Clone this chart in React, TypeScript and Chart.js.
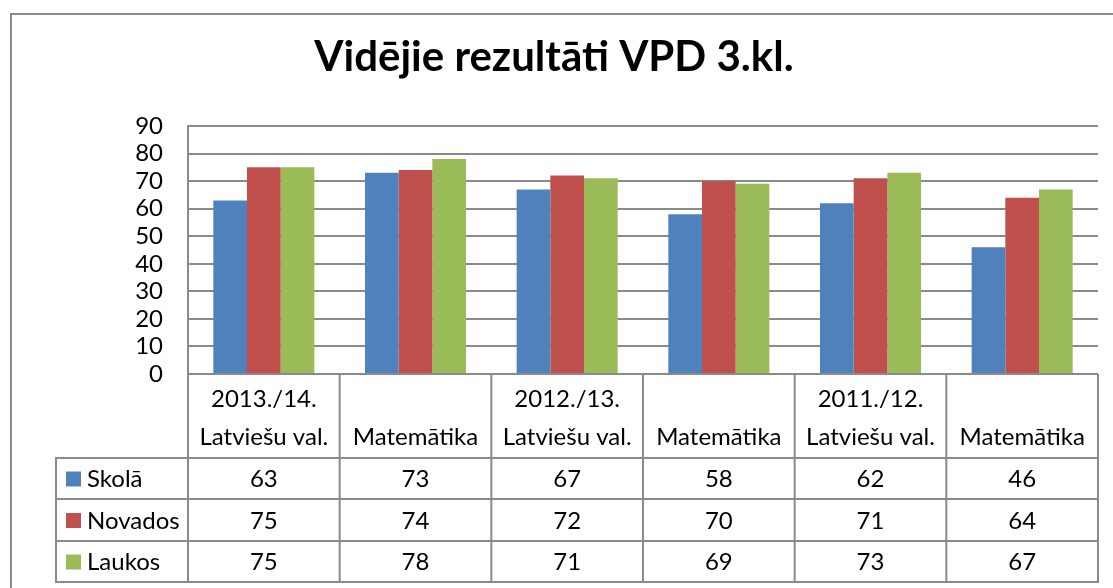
import React, { useEffect, useRef } from "react";
import { Chart, registerables } from "chart.js";

Chart.register(...registerables);

const TITLE = "Vidējie rezultāti VPD 3.kl.";
const YEARS = ["2013./14.", "", "2012./13.", "", "2011./12.", ""];
const SUBJECTS = ["Latviešu val.", "Matemātika", "Latviešu val.", "Matemātika", "Latviešu val.", "Matemātika"];
const SERIES_NAMES = ["Skolā", "Novados", "Laukos"];
const SKOLA = [63, 73, 67, 58, 62, 46];
const NOVADOS = [75, 74, 72, 70, 71, 64];
const LAUKOS = [75, 78, 71, 69, 73, 67];
const Y_MIN = 0;
const Y_MAX = 90;
const Y_STEP = 10;

const COLORS = ["#4F81BD", "#C0504D", "#9BBB59"];
const LINE = "#8a8a8a";
const FONT = "Lato, 'Open Sans', sans-serif";

const W = 1113;
const H = 588;

const tablePlugin = {
  id: "excelTable",
  afterDraw(chart: any) {
    const ctx = chart.ctx as CanvasRenderingContext2D;
    const ca = chart.chartArea;
    const xs = chart.scales.x;
    const labels = chart.data.labels as string[][];
    const n = labels.length;
    const colW = (ca.right - ca.left) / n;
    const headTop = ca.bottom;
    const headBottom = headTop + 84;
    const rowH = [41, 42, 41];
    const rowTops = [headBottom, headBottom + rowH[0], headBottom + rowH[0] + rowH[1]];
    const tableBottom = rowTops[2] + rowH[2];
    const legendLeft = 56;

    ctx.save();
    // outer chart border (left & top visible)
    ctx.strokeStyle = LINE;
    ctx.lineWidth = 2;
    ctx.strokeRect(11, 14, W + 20, H + 20);

    // title
    ctx.fillStyle = "#000";
    ctx.font = `bold 42px ${FONT}`;
    ctx.textAlign = "center";
    ctx.textBaseline = "alphabetic";
    ctx.fillText(TITLE, 554, 71);

    // table grid
    ctx.strokeStyle = LINE;
    ctx.lineWidth = 2;
    ctx.beginPath();
    for (let i = 0; i <= n; i++) {
      const x = ca.left + i * colW;
      ctx.moveTo(x, headTop);
      ctx.lineTo(x, tableBottom);
    }
    ctx.moveTo(legendLeft, headBottom);
    ctx.lineTo(legendLeft, tableBottom);
    for (const y of [...rowTops, tableBottom]) {
      ctx.moveTo(legendLeft - 1, y);
      ctx.lineTo(ca.right + 1, y);
    }
    ctx.stroke();

    // header labels
    ctx.fillStyle = "#000";
    ctx.font = `24px ${FONT}`;
    ctx.textAlign = "center";
    ctx.textBaseline = "middle";
    for (let i = 0; i < n; i++) {
      const cx = xs.getPixelForValue(i);
      const lines = labels[i];
      ctx.fillText(lines[0], cx, headTop + 25);
      ctx.fillText(lines[1], cx, headTop + 63);
    }

    // data rows
    chart.data.datasets.forEach((ds: any, r: number) => {
      const cy = rowTops[r] + rowH[r] / 2 + 1;
      ctx.fillStyle = ds.backgroundColor;
      ctx.fillRect(66, cy - 8, 15, 15);
      ctx.fillStyle = "#000";
      ctx.textAlign = "left";
      ctx.fillText(ds.label, 87, cy);
      ctx.textAlign = "center";
      ds.data.forEach((v: number, i: number) => {
        ctx.fillText(String(v), xs.getPixelForValue(i), cy);
      });
    });
    ctx.restore();
  },
};

export default function App() {
  const ref = useRef<HTMLCanvasElement>(null);
  useEffect(() => {
    const labels = YEARS.map((y, i) => [y, SUBJECTS[i]]);
    const chart = new Chart(ref.current as HTMLCanvasElement, {
      type: "bar",
      data: {
        labels,
        datasets: [
          { label: SERIES_NAMES[0], data: SKOLA, backgroundColor: COLORS[0] },
          { label: SERIES_NAMES[1], data: NOVADOS, backgroundColor: COLORS[1] },
          { label: SERIES_NAMES[2], data: LAUKOS, backgroundColor: COLORS[2] },
        ],
      },
      options: {
        responsive: false,
        maintainAspectRatio: false,
        animation: false,
        devicePixelRatio: 1,
        layout: { padding: { left: 0, top: 126, right: 15, bottom: 214 } },
        datasets: { bar: { categoryPercentage: 0.666, barPercentage: 1.0 } },
        plugins: {
          legend: { display: false },
          title: { display: false },
          tooltip: { enabled: false },
        },
        scales: {
          x: { display: false },
          y: {
            min: Y_MIN,
            max: Y_MAX,
            ticks: {
              stepSize: Y_STEP,
              autoSkip: false,
              padding: 25,
              color: "#000",
              font: { family: FONT, size: 24 },
            },
            grid: { color: LINE, lineWidth: 2, drawTicks: false },
            border: { display: true, color: LINE, width: 2 },
            afterFit: (s: any) => {
              s.width = 188;
            },
          },
        },
      },
      plugins: [tablePlugin],
    } as any);
    return () => chart.destroy();
  }, []);
  return (
    <div style={{ position: "absolute", left: 0, top: 0, width: W, height: H, background: "#fff" }}>
      <canvas ref={ref} width={W} height={H} style={{ display: "block" }} />
    </div>
  );
}
